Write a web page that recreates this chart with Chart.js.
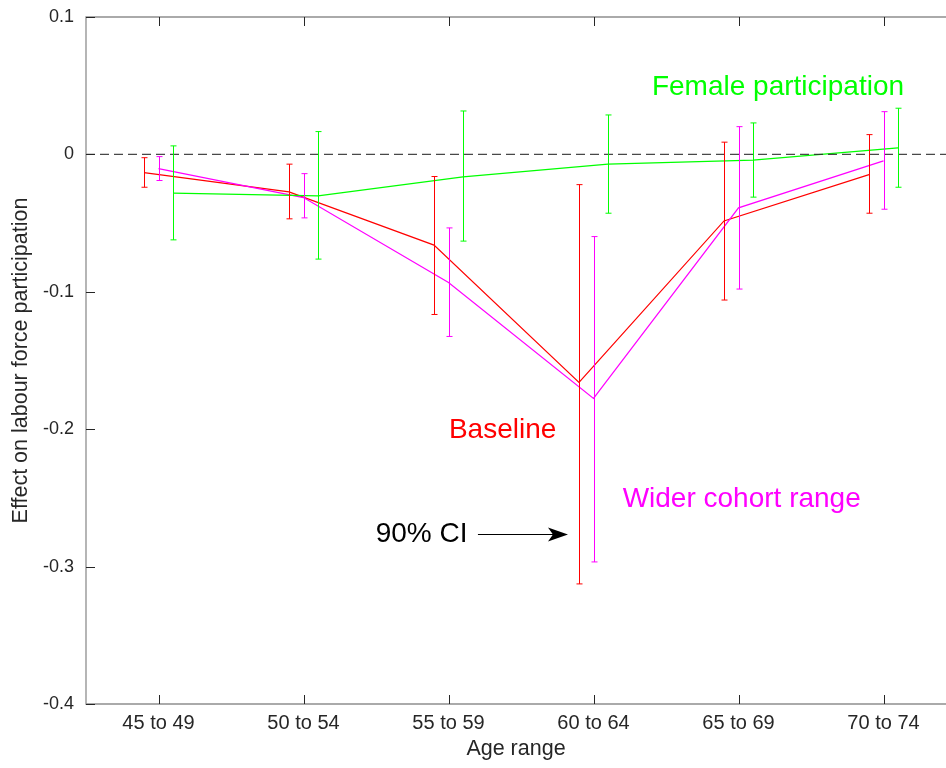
<!DOCTYPE html>
<html>
<head>
<meta charset="utf-8">
<script src="https://cdn.jsdelivr.net/npm/chart.js@4.4.0/dist/chart.umd.min.js"></script>
<style>
    html, body { margin: 0; padding: 0; background: #fff; }
    canvas { display: block; }
</style>
</head>
<body>
<canvas id="myChart" width="946" height="768"></canvas>
<script>
const ageRanges = ["45 to 49", "50 to 54", "55 to 59", "60 to 64", "65 to 69", "70 to 74"]

const baseline = [-0.0132, -0.0273, -0.0660, -0.1660, -0.0484, -0.0147]
const baselineLow = [-0.0239, -0.0469, -0.1165, -0.3126, -0.1060, -0.0428]
const baselineHigh = [-0.0024, -0.0071, -0.0161, -0.0220, 0.0089, 0.0144]

const wider = [-0.0103, -0.0314, -0.0932, -0.1776, -0.0389, -0.0047]
const widerLow = [-0.0190, -0.0462, -0.1325, -0.2966, -0.0980, -0.0399]
const widerHigh = [-0.0016, -0.0140, -0.0535, -0.0598, 0.0202, 0.0311]

const female = [-0.0282, -0.0302, -0.0164, -0.0071, -0.0042, 0.0047]
const femaleLow = [-0.0622, -0.0762, -0.0631, -0.0428, -0.0311, -0.0239]
const femaleHigh = [0.0062, 0.0166, 0.0316, 0.0287, 0.0229, 0.0336]

const yTicks = [0.1, 0, -0.1, -0.2, -0.3, -0.4]

const FONT = '"Liberation Sans", Arial, Helvetica, sans-serif'
const X_MIN = 0.5
const X_MAX = 6.431

function points(values, shift) {
    // each age group sits at 1..6, series are nudged sideways
    return values.map((v, i) => ({ x: i + 1 + shift, y: v }))
}

function makeSeries(label, values, low, high, shift, color) {
    return {
        label: label,
        data: points(values, shift),
        errLow: low,
        errHigh: high,
        shift: shift,
        borderColor: color,
        backgroundColor: color,
        borderWidth: 1.2,
        pointRadius: 0,
        tension: 0
    }
}

// text labels placed in data units
const annotations = [
    { text: "Female participation", x: 4.403, y: 0.0432, color: "#00ff00" },
    { text: "Baseline", x: 3.003, y: -0.2064, color: "#ff0000" },
    { text: "Wider cohort range", x: 4.201, y: -0.2564, color: "#ff00ff" },
    { text: "90% CI", x: 2.498, y: -0.2819, color: "#000000" }
]
const ciArrow = { x0: 3.203, x1: 3.824, y: -0.2765 }

const decorations = {
    id: 'decorations',
    afterDatasetsDraw(chart) {
        const ctx = chart.ctx
        const xs = chart.scales.x
        const ys = chart.scales.y
        const area = chart.chartArea

        // error bars
        ctx.save()
        ctx.beginPath()
        ctx.rect(area.left, area.top, area.right - area.left, area.bottom - area.top)
        ctx.clip()
        chart.data.datasets.forEach(ds => {
            if (!ds.errLow) return
            ctx.strokeStyle = ds.borderColor
            ctx.lineWidth = 1
            for (let i = 0; i < ds.errLow.length; i++) {
                let px = Math.round(xs.getPixelForValue(i + 1 + ds.shift)) + 0.5
                let top = ys.getPixelForValue(ds.errHigh[i])
                let bot = ys.getPixelForValue(ds.errLow[i])
                ctx.beginPath()
                ctx.moveTo(px, top)
                ctx.lineTo(px, bot)
                ctx.moveTo(px - 3, top)
                ctx.lineTo(px + 3, top)
                ctx.moveTo(px - 3, bot)
                ctx.lineTo(px + 3, bot)
                ctx.stroke()
            }
        })
        ctx.restore()

        // axis box with inward ticks
        ctx.save()
        ctx.strokeStyle = '#8f8f8f'
        ctx.lineWidth = 1.3
        ctx.beginPath()
        ctx.moveTo(area.right, area.top)
        ctx.lineTo(area.left, area.top)
        ctx.lineTo(area.left, area.bottom)
        ctx.lineTo(area.right, area.bottom)
        ctx.stroke()
        ctx.strokeStyle = '#262626'
        ctx.lineWidth = 1
        ctx.beginPath()
        for (let i = 0; i < ageRanges.length; i++) {
            let px = Math.round(xs.getPixelForValue(i + 1)) + 0.5
            ctx.moveTo(px, area.bottom)
            ctx.lineTo(px, area.bottom - 9)
            ctx.moveTo(px, area.top)
            ctx.lineTo(px, area.top + 9)
        }
        yTicks.forEach(v => {
            let py = Math.round(ys.getPixelForValue(v)) + 0.5
            ctx.moveTo(area.left, py)
            ctx.lineTo(area.left + 9, py)
        })
        ctx.stroke()
        ctx.restore()

        // annotations
        ctx.save()
        ctx.font = '28px ' + FONT
        ctx.textAlign = 'left'
        ctx.textBaseline = 'alphabetic'
        annotations.forEach(a => {
            ctx.fillStyle = a.color
            ctx.fillText(a.text, xs.getPixelForValue(a.x), ys.getPixelForValue(a.y))
        })
        let ax0 = xs.getPixelForValue(ciArrow.x0)
        let ax1 = xs.getPixelForValue(ciArrow.x1)
        let ay = Math.round(ys.getPixelForValue(ciArrow.y)) + 0.5
        ctx.strokeStyle = '#000'
        ctx.fillStyle = '#000'
        ctx.lineWidth = 1.2
        ctx.beginPath()
        ctx.moveTo(ax0, ay)
        ctx.lineTo(ax1 - 8, ay)
        ctx.stroke()
        ctx.beginPath()
        ctx.moveTo(ax1, ay)
        ctx.lineTo(ax1 - 20, ay - 7)
        ctx.lineTo(ax1 - 15, ay)
        ctx.lineTo(ax1 - 20, ay + 7)
        ctx.closePath()
        ctx.fill()
        ctx.restore()
    }
}

function init() {
    const datasets = [
        {
            label: "zero",
            data: [{ x: X_MIN, y: 0 }, { x: X_MAX, y: 0 }],
            borderColor: 'rgba(40, 40, 40, 0.85)',
            borderWidth: 1.3,
            borderDash: [9, 5],
            pointRadius: 0
        },
        makeSeries("Female participation", female, femaleLow, femaleHigh, 0.1, '#00ff00'),
        makeSeries("Wider cohort range", wider, widerLow, widerHigh, 0, '#ff00ff'),
        makeSeries("Baseline", baseline, baselineLow, baselineHigh, -0.1, '#ff0000')
    ]

    const chartConfig = {
        type: 'line',
        data: { datasets: datasets },
        options: {
            responsive: false,
            animation: false,
            devicePixelRatio: 1,
            layout: { padding: { top: 17, right: 0, left: 0, bottom: 0 } },
            plugins: {
                legend: { display: false },
                tooltip: { enabled: false }
            },
            scales: {
                x: {
                    type: 'linear',
                    min: X_MIN,
                    max: X_MAX,
                    afterBuildTicks: axis => {
                        axis.ticks = ageRanges.map((_, i) => ({ value: i + 1 }))
                    },
                    afterFit: axis => {
                        axis.height = 64
                        axis.paddingLeft = 0
                        axis.paddingRight = 0
                    },
                    grid: { display: false, drawTicks: false },
                    border: { display: false },
                    ticks: {
                        autoSkip: false,
                        maxRotation: 0,
                        padding: 7,
                        color: '#262626',
                        font: { family: FONT, size: 20 },
                        callback: v => ageRanges[Math.round(v) - 1]
                    },
                    title: {
                        display: true,
                        text: "Age range",
                        color: '#262626',
                        font: { family: FONT, size: 21.5 },
                        padding: { top: 0, bottom: 6 }
                    }
                },
                y: {
                    min: -0.4,
                    max: 0.1,
                    afterBuildTicks: axis => {
                        axis.ticks = yTicks.map(v => ({ value: v }))
                    },
                    afterFit: axis => {
                        axis.width = 86
                        axis.paddingTop = 0
                        axis.paddingBottom = 0
                    },
                    grid: { display: false, drawTicks: false },
                    border: { display: false },
                    ticks: {
                        padding: 12,
                        color: '#262626',
                        font: { family: FONT, size: 18 },
                        callback: v => String(Math.round(v * 10) / 10)
                    },
                    title: {
                        display: true,
                        text: "Effect on labour force participation",
                        color: '#262626',
                        font: { family: FONT, size: 21.5 },
                        padding: { top: 8, bottom: 0 }
                    }
                }
            }
        },
        plugins: [decorations]
    }

    new Chart(document.getElementById('myChart'), chartConfig)
}

init()
</script>
</body>
</html>
